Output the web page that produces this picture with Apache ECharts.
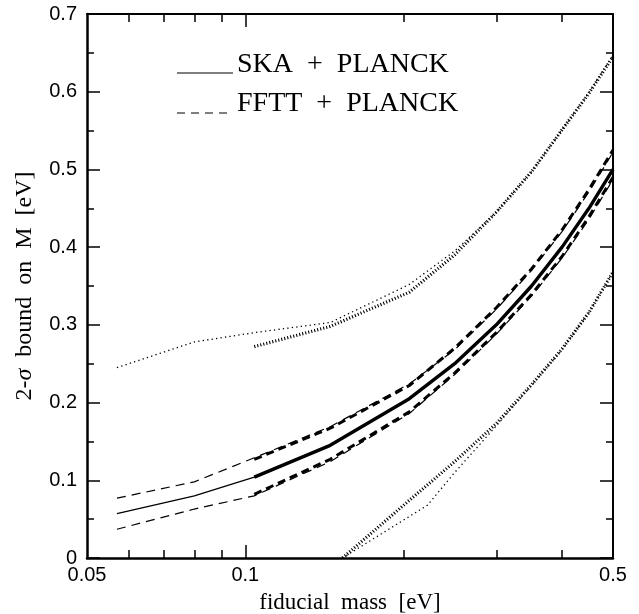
<!DOCTYPE html>
<html>
<head>
<meta charset="utf-8">
<script src="https://cdn.jsdelivr.net/npm/echarts@6/dist/echarts.min.js"></script>
<style>
  html, body { margin: 0; padding: 0; background: #fff; }
  #main { width: 639px; height: 614px; }
</style>
</head>
<body>
<div id="main"></div>
<script>
// fiducial mass nodes [eV]
const thinMass = [0.057, 0.08, 0.104, 0.145, 0.205, 0.25, 0.3, 0.35, 0.4, 0.45, 0.5]
const thickMass = [0.104, 0.145, 0.205, 0.25, 0.3, 0.35, 0.4, 0.45, 0.5]

// SKA + PLANCK (solid)
const skaThin = [0.057, 0.08, 0.104, 0.145, 0.205, 0.25, 0.3, 0.35, 0.4, 0.45, 0.5]
const skaThick = [0.104, 0.145, 0.205, 0.25, 0.3, 0.35, 0.4, 0.45, 0.5]

// FFTT + PLANCK (dashed), upper / lower bounds
const ffttUpThin = [0.077, 0.098, 0.129, 0.169, 0.224, 0.268, 0.32, 0.37, 0.42, 0.471, 0.522]
const ffttLoThin = [0.037, 0.063, 0.080, 0.124, 0.186, 0.236, 0.288, 0.337, 0.386, 0.436, 0.487]
const ffttUpThick = [0.127, 0.167, 0.222, 0.27, 0.322, 0.372, 0.422, 0.474, 0.525]
const ffttLoThick = [0.082, 0.127, 0.188, 0.238, 0.29, 0.339, 0.388, 0.439, 0.49]

// dotted bounds
const dotUpThin = [0.245, 0.278, 0.290, 0.303, 0.352, 0.395, 0.445, 0.497, 0.551, 0.599, 0.647]
const dotUpThick = [0.272, 0.298, 0.342, 0.39, 0.445, 0.497, 0.551, 0.598, 0.645]
const dotLoThinMass = [0.153, 0.222, 0.25, 0.3, 0.35, 0.4, 0.45, 0.5]
const dotLoThin = [0, 0.068, 0.11, 0.17, 0.222, 0.268, 0.316, 0.368]
const dotLoThickMass = [0.153, 0.2, 0.25, 0.3, 0.35, 0.4, 0.45, 0.5]
const dotLoThick = [0, 0.068, 0.124, 0.173, 0.223, 0.269, 0.316, 0.368]

// axis ticks
const xLabels = [0.05, 0.1, 0.5]
const xMajorTicks = [0.1]
const xMinorTicks = [0.06, 0.07, 0.08, 0.09, 0.2, 0.3, 0.4]

const pairs = (xs, ys) => xs.map((x, i) => [x, ys[i]])

const serif = '"Liberation Serif", "DejaVu Serif", serif'
const sans = '"Liberation Sans", Arial, sans-serif'

const line = (name, xs, ys, width, type) => ({
    name,
    type: 'line',
    data: pairs(xs, ys),
    showSymbol: false,
    symbol: 'none',
    silent: true,
    animation: false,
    lineStyle: { color: '#000', width, type, cap: 'butt' },
})

const xAxisBase = {
    type: 'log',
    logBase: 10,
    min: 0.05,
    max: 0.5,
    splitLine: { show: false },
    axisLine: { show: false },
    axisLabel: { show: false },
}

const xAxis = [
    {
        ...xAxisBase,
        position: 'bottom',
        axisLine: { show: true, lineStyle: { color: '#000', width: 2.5 } },
        axisTick: { inside: true, length: 13, customValues: xMajorTicks, lineStyle: { color: '#000', width: 1.5 } },
        axisLabel: {
            show: true,
            customValues: xLabels,
            color: '#000',
            fontFamily: sans,
            fontSize: 20,
            margin: 7,
            formatter: (v) => String(+(+v).toPrecision(3)),
        },
        name: 'fiducial  mass  [eV]',
        nameLocation: 'middle',
        nameGap: 33,
        nameTextStyle: { color: '#000', fontFamily: serif, fontSize: 23 },
    },
    {
        ...xAxisBase,
        position: 'bottom',
        axisTick: { inside: true, length: 8, customValues: xMinorTicks, lineStyle: { color: '#000', width: 1.5 } },
    },
    {
        ...xAxisBase,
        position: 'top',
        axisLine: { show: true, lineStyle: { color: '#000', width: 2 } },
        axisTick: { inside: true, length: 13, customValues: xMajorTicks, lineStyle: { color: '#000', width: 1.5 } },
    },
    {
        ...xAxisBase,
        position: 'top',
        axisTick: { inside: true, length: 8, customValues: xMinorTicks, lineStyle: { color: '#000', width: 1.5 } },
    },
]

const yAxisBase = {
    type: 'value',
    min: 0,
    max: 0.7,
    interval: 0.1,
    splitLine: { show: false },
    axisLine: { show: true, lineStyle: { color: '#000', width: 2 } },
    axisTick: { inside: true, length: 13, lineStyle: { color: '#000', width: 1.5 } },
    minorTick: { show: true, splitNumber: 2, length: 7, lineStyle: { color: '#000', width: 1.5 } },
}

const yAxis = [
    {
        ...yAxisBase,
        position: 'left',
        axisLine: { show: true, lineStyle: { color: '#000', width: 2.5 } },
        axisLabel: { color: '#000', fontFamily: sans, fontSize: 20, margin: 10 },
        name: '2-{i|σ}  bound  on  M  [eV]',
        nameLocation: 'middle',
        nameGap: 50,
        nameTextStyle: {
            color: '#000',
            fontFamily: serif,
            fontSize: 24,
            rich: { i: { fontFamily: serif, fontStyle: 'italic', fontSize: 24, color: '#000' } },
        },
    },
    {
        ...yAxisBase,
        position: 'right',
        axisLabel: { show: false },
    },
]

const chart = echarts.init(document.getElementById('main'), null, { renderer: 'canvas' })

chart.setOption({
    backgroundColor: '#fff',
    animation: false,
    grid: { left: 87, right: 26, top: 14, bottom: 56, containLabel: false, outerBoundsMode: 'none' },
    xAxis,
    yAxis,
    series: [
        line('SKA + PLANCK (thin)', thinMass, skaThin, 1.2, 'solid'),
        line('SKA + PLANCK (thick)', thickMass, skaThick, 3.4, 'solid'),
        line('FFTT + PLANCK upper (thin)', thinMass, ffttUpThin, 1.2, [9, 6]),
        line('FFTT + PLANCK lower (thin)', thinMass, ffttLoThin, 1.2, [9, 6]),
        line('FFTT + PLANCK upper (thick)', thickMass, ffttUpThick, 3, [8, 5]),
        line('FFTT + PLANCK lower (thick)', thickMass, ffttLoThick, 3, [8, 5]),
        line('upper (thin dotted)', thinMass, dotUpThin, 1.3, [1.3, 3.2]),
        line('upper (thick dotted)', thickMass, dotUpThick, 3.2, [1.1, 2]),
        line('lower (thin dotted)', dotLoThinMass, dotLoThin, 1.3, [1.3, 3.2]),
        line('lower (thick dotted)', dotLoThickMass, dotLoThick, 3.2, [1.1, 2]),
    ],
    graphic: [
        { type: 'line', shape: { x1: 177, y1: 73, x2: 233, y2: 73 }, style: { stroke: '#000', lineWidth: 1.2 } },
        { type: 'line', shape: { x1: 177, y1: 113, x2: 233, y2: 113 }, style: { stroke: '#000', lineWidth: 1.2, lineDash: [8, 6] } },
        { type: 'text', x: 237, y: 65, style: { text: 'SKA  +  PLANCK', font: '28px ' + serif, fill: '#000', verticalAlign: 'middle' } },
        { type: 'text', x: 237, y: 104, style: { text: 'FFTT  +  PLANCK', font: '28px ' + serif, fill: '#000', verticalAlign: 'middle' } },
    ],
})
</script>
</body>
</html>
